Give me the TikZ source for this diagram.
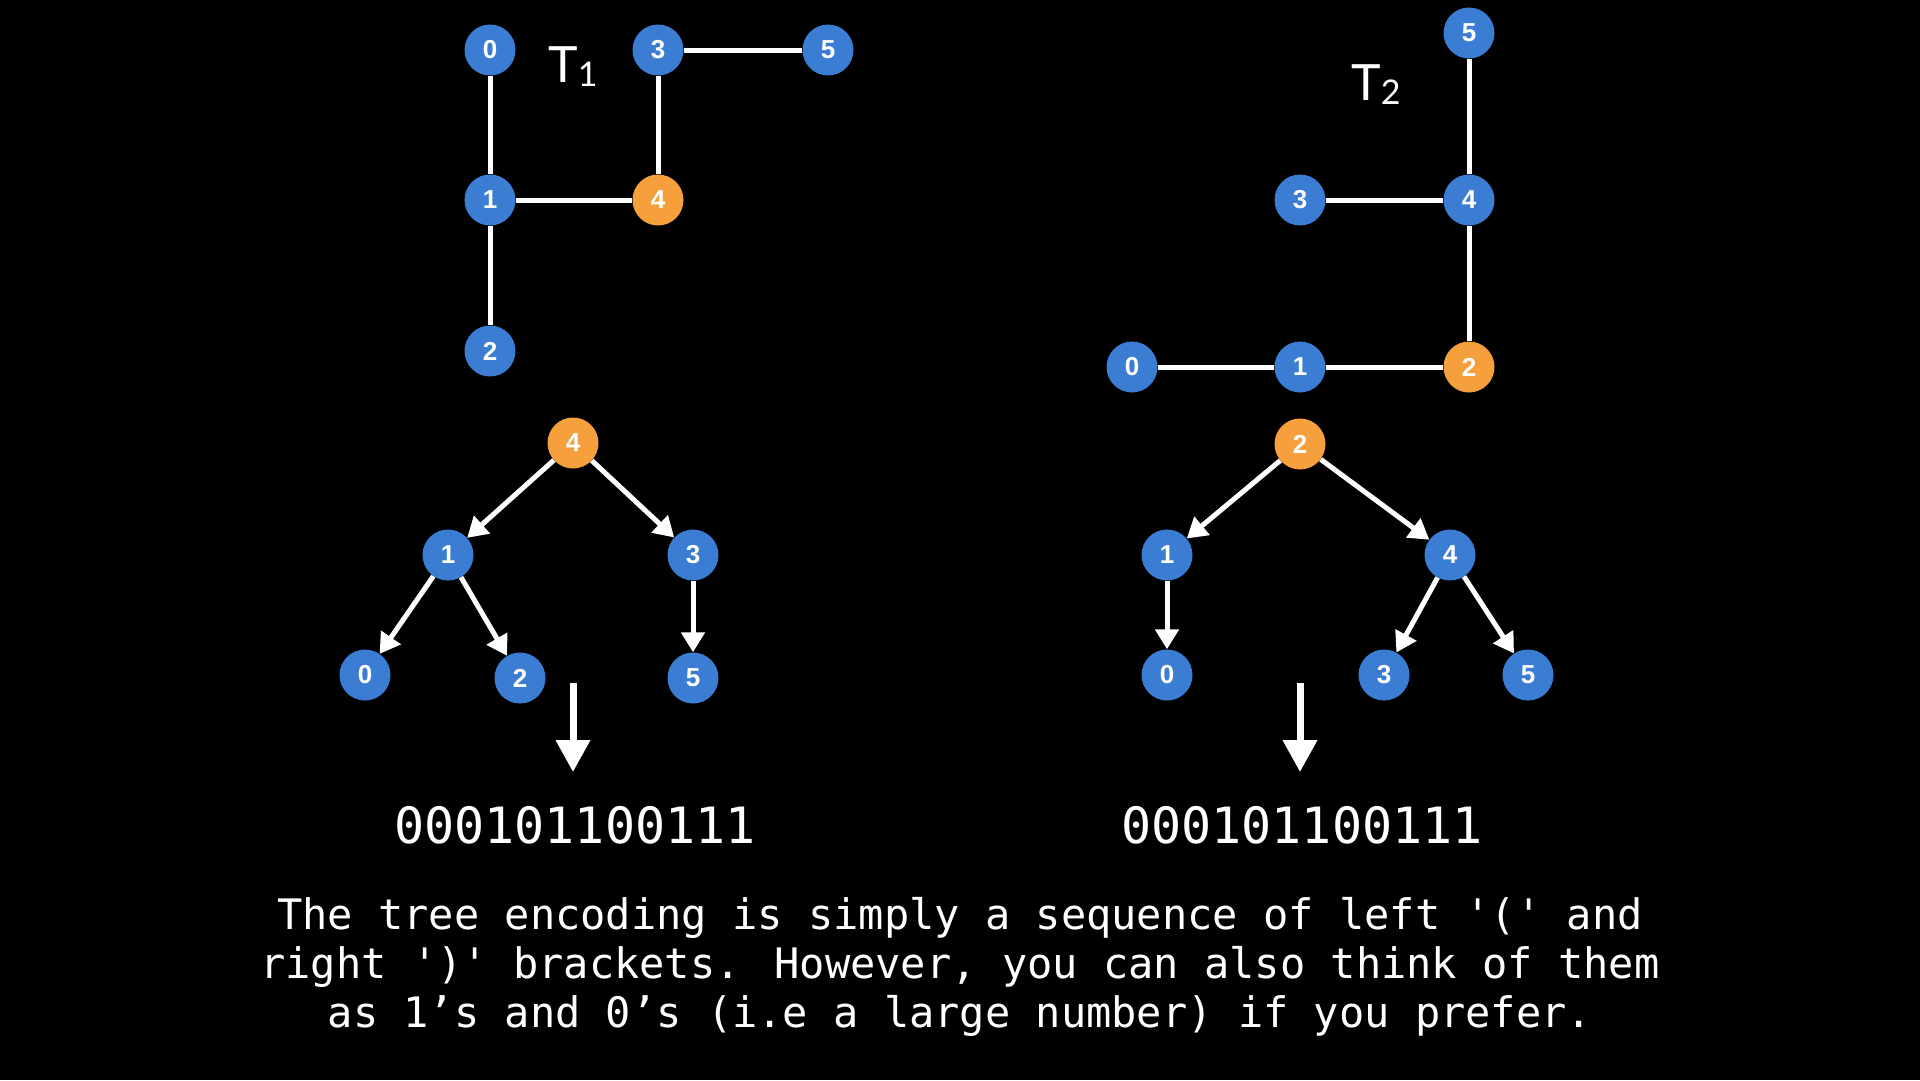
\documentclass[tikz,border=0pt]{standalone}
\usepackage{fontspec}
\setmainfont{Liberation Sans}
\newfontfamily\monofont{DejaVu Sans Mono}
\newfontfamily\labelfont{Lato}
\usetikzlibrary{arrows.meta}
\definecolor{nodeblue}{RGB}{58,125,210}
\definecolor{nodeorange}{RGB}{245,160,60}
\begin{document}
\begin{tikzpicture}[x=1pt,y=-1pt,
  vtx/.style={circle,fill=nodeblue,minimum size=51pt,inner sep=0pt,text=white,
    font=\fontsize{26}{26}\selectfont\bfseries},
  rootvtx/.style={vtx,fill=nodeorange},
  edge/.style={draw=white,line width=5pt},
  arr/.style={draw=white,line width=5pt,-{Triangle[width=23pt,length=20pt]}},
  bigarr/.style={draw=white,line width=7pt,-{Triangle[width=33pt,length=32pt]}},
  bits/.style={text=white,anchor=base,inner sep=0pt,font=\monofont\fontsize{50}{50}\selectfont},
  caption/.style={text=white,anchor=base,inner sep=0pt,font=\monofont\fontsize{42}{42}\selectfont},
  tlabel/.style={text=white,anchor=base,inner sep=0pt,font=\labelfont\fontsize{50}{50}\selectfont}]
\fill[black] (0,0) rectangle (1920,1080);
\useasboundingbox (0,0) rectangle (1920,1080);

% ---------- T1 graph ----------
\node[vtx] (a0) at (490,50) {0};
\node[vtx] (a3) at (658,50) {3};
\node[vtx] (a5) at (828,50) {5};
\node[vtx] (a1) at (490,200) {1};
\node[rootvtx] (a4) at (658,200) {4};
\node[vtx] (a2) at (490,351) {2};
\node[tlabel] (t1) at (573,82) {T\raisebox{-4pt}{\fontsize{34}{34}\selectfont 1}};

% ---------- T2 graph ----------
\node[vtx] (b5) at (1469,33) {5};
\node[vtx] (b3) at (1300,200) {3};
\node[vtx] (b4) at (1469,200) {4};
\node[vtx] (b0) at (1132,367) {0};
\node[vtx] (b1) at (1300,367) {1};
\node[rootvtx] (b2) at (1469,367) {2};
\node[tlabel] (t2) at (1376,100) {T\raisebox{-4pt}{\fontsize{34}{34}\selectfont 2}};

\draw[edge] (a0) -- (a1);
\draw[edge] (a1) -- (a4);
\draw[edge] (a1) -- (a2);
\draw[edge] (a4) -- (a3);
\draw[edge] (a3) -- (a5);

\draw[edge] (b5) -- (b4);
\draw[edge] (b3) -- (b4);
\draw[edge] (b4) -- (b2);
\draw[edge] (b2) -- (b1);
\draw[edge] (b1) -- (b0);

% ---------- rooted tree 1 ----------
\node[rootvtx] (r4) at (573,443) {4};
\node[vtx] (r1) at (448,555) {1};
\node[vtx] (r3) at (693,555) {3};
\node[vtx] (r0) at (365,675) {0};
\node[vtx] (r2) at (520,678) {2};
\node[vtx] (r5) at (693,678) {5};
\draw[arr] (r4) -- (r1);
\draw[arr] (r4) -- (r3);
\draw[arr] (r1) -- (r0);
\draw[arr] (r1) -- (r2);
\draw[arr] (r3) -- (r5);

% ---------- rooted tree 2 ----------
\node[rootvtx] (s2) at (1300,444) {2};
\node[vtx] (s1) at (1167,555) {1};
\node[vtx] (s4) at (1450,555) {4};
\node[vtx] (s0) at (1167,675) {0};
\node[vtx] (s3) at (1384,675) {3};
\node[vtx] (s5) at (1528,675) {5};
\draw[arr] (s2) -- (s1);
\draw[arr] (s2) -- (s4);
\draw[arr] (s1) -- (s0);
\draw[arr] (s4) -- (s3);
\draw[arr] (s4) -- (s5);

% ---------- big arrows and encodings ----------
\coordinate (p1) at (573,683);
\coordinate (q1) at (573,772);
\coordinate (p2) at (1300,683);
\coordinate (q2) at (1300,772);
\draw[bigarr] (p1) -- (q1);
\draw[bigarr] (p2) -- (q2);
\node[bits] (e1) at (575,843) {000101100111};
\node[bits] (e2) at (1302,843) {000101100111};

% ---------- caption ----------
\node[caption] (c1) at (960,929) {The tree encoding is simply a sequence of left \textquotesingle(\textquotesingle{} and};
\node[caption] (c2) at (960,978) {right \textquotesingle)\textquotesingle{} brackets. However, you can also think of them};
\node[caption] (c3) at (960,1027) {as 1’s and 0’s (i.e a large number) if you prefer.};
\end{tikzpicture}
\end{document}
